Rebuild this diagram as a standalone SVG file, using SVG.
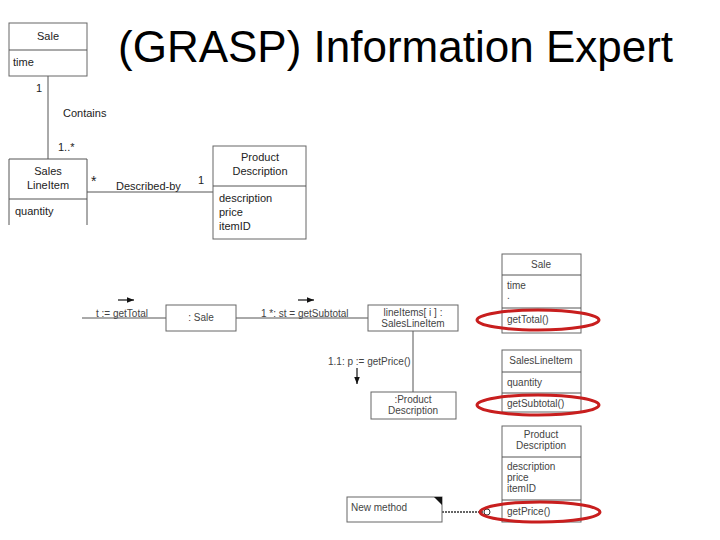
<svg xmlns="http://www.w3.org/2000/svg" width="720" height="540" viewBox="0 0 720 540">
<style>
.box{fill:#fff;stroke:#666;stroke-width:1}
.ln{stroke:#555;stroke-width:1;fill:none}
.t{font-family:"Liberation Sans",Arial,sans-serif;font-size:11px;fill:#222}
.s{font-family:"Liberation Sans",Arial,sans-serif;font-size:10px;fill:#444}
.c{text-anchor:middle}
.red{fill:none;stroke:#c81e1e;stroke-width:3}
</style>
<defs>
<marker id="ah" viewBox="0 0 10 10" refX="10" refY="5" markerWidth="6" markerHeight="6" orient="auto"><path d="M0,1 L10,5 L0,9 z" fill="#111"/></marker>
</defs>
<rect width="720" height="540" fill="#fff"/>
<text x="118" y="62" style="font-family:'Liberation Sans',Arial,sans-serif;font-size:44px;fill:#000">(GRASP) Information Expert</text>

<g id="connectors">
<line class="ln" x1="48" y1="76" x2="48" y2="159"/>
<line class="ln" x1="87" y1="192" x2="213" y2="192"/>
<line class="ln" x1="82" y1="318" x2="166" y2="318"/>
<line class="ln" x1="236" y1="318" x2="368" y2="318"/>
<line class="ln" x1="413" y1="331" x2="413" y2="392"/>
<line x1="118" y1="300" x2="134" y2="300" stroke="#111" stroke-width="1.2" marker-end="url(#ah)"/>
<line x1="298" y1="300" x2="314" y2="300" stroke="#111" stroke-width="1.2" marker-end="url(#ah)"/>
<line x1="357" y1="368" x2="357" y2="384" stroke="#111" stroke-width="1.2" marker-end="url(#ah)"/>
<line x1="442" y1="512" x2="484" y2="512" stroke="#333" stroke-width="1.5" stroke-dasharray="2,1"/>
<circle cx="487" cy="512" r="3" fill="none" stroke="#333" stroke-width="1"/>
<text class="t" x="36" y="92">1</text>
<text class="t" x="63" y="117">Contains</text>
<text class="t" x="58" y="151">1..*</text>
<text class="t" x="91" y="186" style="font-size:14px">*</text>
<text class="t" x="116" y="190">Described-by</text>
<text class="t" x="198" y="184">1</text>
<text class="s" x="96" y="317">t := getTotal</text>
<text class="s" x="261" y="317">1 *: st = getSubtotal</text>
<text class="s" x="328" y="365">1.1: p := getPrice()</text>
</g>

<g id="sale-class">
<rect class="box" x="9" y="23" width="78" height="53"/>
<line class="ln" x1="9" y1="50" x2="87" y2="50"/>
<text class="t c" x="48" y="40">Sale</text>
<text class="t" x="13" y="66">time</text>
</g>

<g id="saleslineitem-class">
<path class="ln" d="M9,225 V159 H87 V225"/>
<line class="ln" x1="9" y1="199" x2="87" y2="199"/>
<text class="t c" x="48" y="175">Sales</text>
<text class="t c" x="48" y="189">LineItem</text>
<text class="t" x="15" y="215">quantity</text>
</g>

<g id="productdescription-class">
<rect class="box" x="213" y="146" width="93" height="93"/>
<line class="ln" x1="213" y1="186" x2="306" y2="186"/>
<text class="t c" x="260" y="161">Product</text>
<text class="t c" x="260" y="175">Description</text>
<text class="t" x="219" y="202">description</text>
<text class="t" x="219" y="216">price</text>
<text class="t" x="219" y="230">itemID</text>
</g>

<g id="sale-obj">
<rect class="box" x="166" y="305" width="70" height="26"/>
<text class="s c" x="201" y="321">: Sale</text>
</g>

<g id="lineitems-obj">
<rect class="box" x="368" y="305" width="90" height="26"/>
<text class="s c" x="413" y="316">lineItems[ i ] :</text>
<text class="s c" x="413" y="327">SalesLineItem</text>
</g>

<g id="pd-obj">
<rect class="box" x="371" y="392" width="85" height="27"/>
<text class="s c" x="413" y="403">:Product</text>
<text class="s c" x="413" y="414">Description</text>
</g>

<g id="sale-class-2">
<rect class="box" x="502" y="254" width="79" height="79"/>
<line class="ln" x1="502" y1="275" x2="581" y2="275"/>
<line class="ln" x1="502" y1="308" x2="581" y2="308"/>
<text class="s c" x="541" y="268">Sale</text>
<text class="s" x="507" y="289">time</text>
<text class="s" x="507" y="299">.</text>
<text class="s" x="507" y="323">getTotal()</text>
<ellipse class="red" cx="538" cy="320" rx="61" ry="10"/>
</g>

<g id="saleslineitem-class-2">
<rect class="box" x="502" y="350" width="79" height="62"/>
<line class="ln" x1="502" y1="372" x2="581" y2="372"/>
<line class="ln" x1="502" y1="393" x2="581" y2="393"/>
<text class="s c" x="541" y="364">SalesLineItem</text>
<text class="s" x="507" y="386">quantity</text>
<text class="s" x="507" y="407">getSubtotal()</text>
<ellipse class="red" cx="538" cy="405" rx="61" ry="10"/>
</g>

<g id="productdescription-class-2">
<rect class="box" x="502" y="426" width="79" height="96"/>
<line class="ln" x1="502" y1="457" x2="581" y2="457"/>
<line class="ln" x1="502" y1="500" x2="581" y2="500"/>
<text class="s c" x="541" y="438">Product</text>
<text class="s c" x="541" y="449">Description</text>
<text class="s" x="507" y="470">description</text>
<text class="s" x="507" y="481">price</text>
<text class="s" x="507" y="492">itemID</text>
<text class="s" x="507" y="515">getPrice()</text>
<ellipse class="red" cx="540" cy="512" rx="60" ry="10"/>
</g>

<g id="note">
<rect class="box" x="347" y="497" width="95" height="25"/>
<polygon points="434,497 442,497 442,505" fill="#111"/>
<text class="s" x="351" y="511">New method</text>
</g>
</svg>
